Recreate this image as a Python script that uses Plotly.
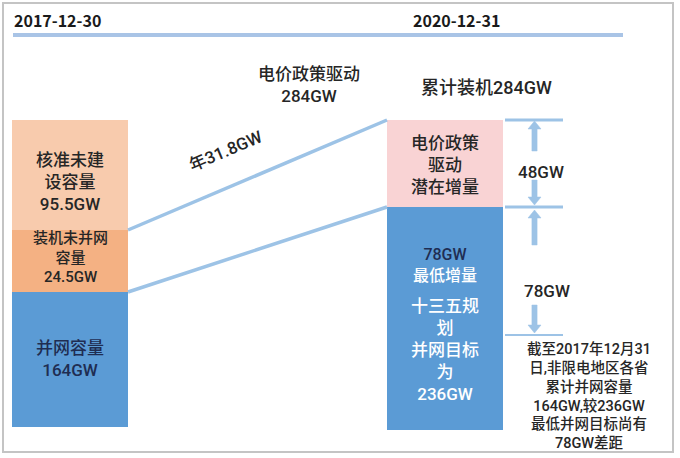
import math
import plotly.graph_objects as go

# ---------------- data ----------------
dates = ["2017-12-30", "2020-12-31"]
left_names = ["并网容量", "装机未并网容量", "核准未建设容量"]
left_values = [164, 24.5, 95.5]
right_names = ["十三五规划并网目标", "电价政策驱动潜在增量"]
right_values = [236, 48]
min_increment = 78
total_target = 284
annual_rate = 31.8

# ---------------- layout constants (schematic, not to scale) ----------------
W, H = 680, 458
FONT = "Roboto, Noto Sans CJK SC"
HEAD_FONT = "Noto Sans CJK SC"
TXT = "#262626"
NAVY = "#1F2D52"
LINE_BLUE = "#9DC3E6"


def Y(py):
    return H - py


BAR_W = 116
LEFT_CX, RIGHT_CX = 70, 445
LEFT_BASE_PX, RIGHT_BASE_PX = 427, 430
LEFT_SEG_H = [135, 62, 110]
RIGHT_SEG_H = [223, 87]
LEFT_COLORS = ["#5B9BD5", "#F4B183", "#F8CBAD"]
RIGHT_COLORS = ["#5B9BD5", "#F9D3D4"]

fig = go.Figure()


def stack(cx, base_px, heights, colors):
    tops = []
    b = Y(base_px)
    for h, c in zip(heights, colors):
        fig.add_trace(go.Bar(x=[cx], y=[h], base=[b], width=BAR_W,
                             marker=dict(color=c, line=dict(width=0)),
                             hoverinfo="skip", showlegend=False))
        b += h
        tops.append(b)
    return tops


left_tops = stack(LEFT_CX, LEFT_BASE_PX, LEFT_SEG_H, LEFT_COLORS)
right_tops = stack(RIGHT_CX, RIGHT_BASE_PX, RIGHT_SEG_H, RIGHT_COLORS)

lx = LEFT_CX + BAR_W / 2
rx = RIGHT_CX - BAR_W / 2

# connectors
for ly, ry in [(left_tops[1], right_tops[1]), (left_tops[0], right_tops[0])]:
    fig.add_trace(go.Scatter(x=[lx, rx], y=[ly, ry], mode="lines",
                             line=dict(color=LINE_BLUE, width=3.5),
                             hoverinfo="skip", showlegend=False))

angle = math.degrees(math.atan2(right_tops[1] - left_tops[1], rx - lx))

shapes = []
# frame
shapes.append(dict(type="rect", x0=3, x1=673, y0=Y(452), y1=Y(3),
                   line=dict(color="#C4C4C4", width=2), fillcolor="rgba(0,0,0,0)"))
# header line
shapes.append(dict(type="line", x0=13, x1=623, y0=Y(35), y1=Y(35),
                   line=dict(color="#A9C4E6", width=4)))
# tick lines at right
for py, w in [(120, 3), (207, 3), (335, 2)]:
    shapes.append(dict(type="line", x0=505, x1=563, y0=Y(py), y1=Y(py),
                       line=dict(color=LINE_BLUE, width=w)))


def arrow(x, tail, tip, sw=2.6, hw=6.5, hl=8):
    d = 1 if tip > tail else -1
    neck = tip - d * hl
    pts = [(x - sw, tail), (x - sw, neck), (x - hw, neck), (x, tip),
           (x + hw, neck), (x + sw, neck), (x + sw, tail)]
    path = "M " + " L ".join(f"{px},{Y(py)}" for px, py in pts) + " Z"
    return dict(type="path", path=path, fillcolor=LINE_BLUE,
                line=dict(color=LINE_BLUE, width=0.5))


AX = 534.5
for tail, tip in [(151, 121), (180, 205), (245, 210), (305, 333)]:
    shapes.append(arrow(AX, tail, tip))

ann = []


def text(x, py, s, size, color=TXT, anchor="center", bold=False, angle=0,
         family=FONT, weight=500):
    if bold:
        s = f"<b>{s}</b>"
    ann.append(dict(x=x, y=Y(py), text=s, showarrow=False, xanchor=anchor,
                    yanchor="middle", textangle=angle, borderpad=0,
                    font=dict(family=family, size=size, color=color,
                              weight=weight)))


def block(x, py, ss, size, color=TXT):
    text(x, py, "<br>".join(ss), size, color)


def gw(v):
    return f"{v:g}GW"


# header
text(13, 20, dates[0], 16, "#1a1a1a", anchor="left", bold=True,
     family=HEAD_FONT, weight=700)
text(412, 20, dates[1], 16, "#1a1a1a", anchor="left", bold=True,
     family=HEAD_FONT, weight=700)

# top texts
block(309, 85, ["电价政策驱动", gw(total_target)], 17)
text(486, 87, "累计装机" + gw(total_target), 18)
text(225, 151, f"年{annual_rate}GW", 17, angle=-angle)

# left bar labels
block(LEFT_CX, 182, ["核准未建", "设容量", gw(left_values[2])], 17)
block(LEFT_CX, 257, ["装机未并网", "容量", gw(left_values[1])], 15)
block(LEFT_CX, 359, ["并网容量", gw(left_values[0])], 17, NAVY)

# right bar labels
block(RIGHT_CX, 165, ["电价政策", "驱动", "潜在增量"], 17)
text(RIGHT_CX, 265,
     f"<span style='color:{NAVY}'>{gw(min_increment)}</span><br>最低增量",
     16, "white")
block(RIGHT_CX, 350, ["十三五规", "划", "并网目标", "为", gw(right_values[0])],
      17, "white")

# gap labels
text(541, 172, gw(right_values[1]), 17)
text(547, 291, gw(min_increment), 17)

# note
block(589, 396, ["截至2017年12月31", "日,非限电地区各省", "累计并网容量",
                 f"{gw(left_values[0])},较{gw(right_values[0])}",
                 "最低并网目标尚有", f"{gw(min_increment)}差距"], 14.5)

fig.update_layout(
    width=W, height=H, margin=dict(l=0, r=0, t=0, b=0),
    paper_bgcolor="white", plot_bgcolor="white",
    barmode="overlay", bargap=0,
    xaxis=dict(range=[0, W], visible=False, fixedrange=True),
    yaxis=dict(range=[0, H], visible=False, fixedrange=True),
    shapes=shapes, annotations=ann, showlegend=False,
)

fig.write_html("out.html")
